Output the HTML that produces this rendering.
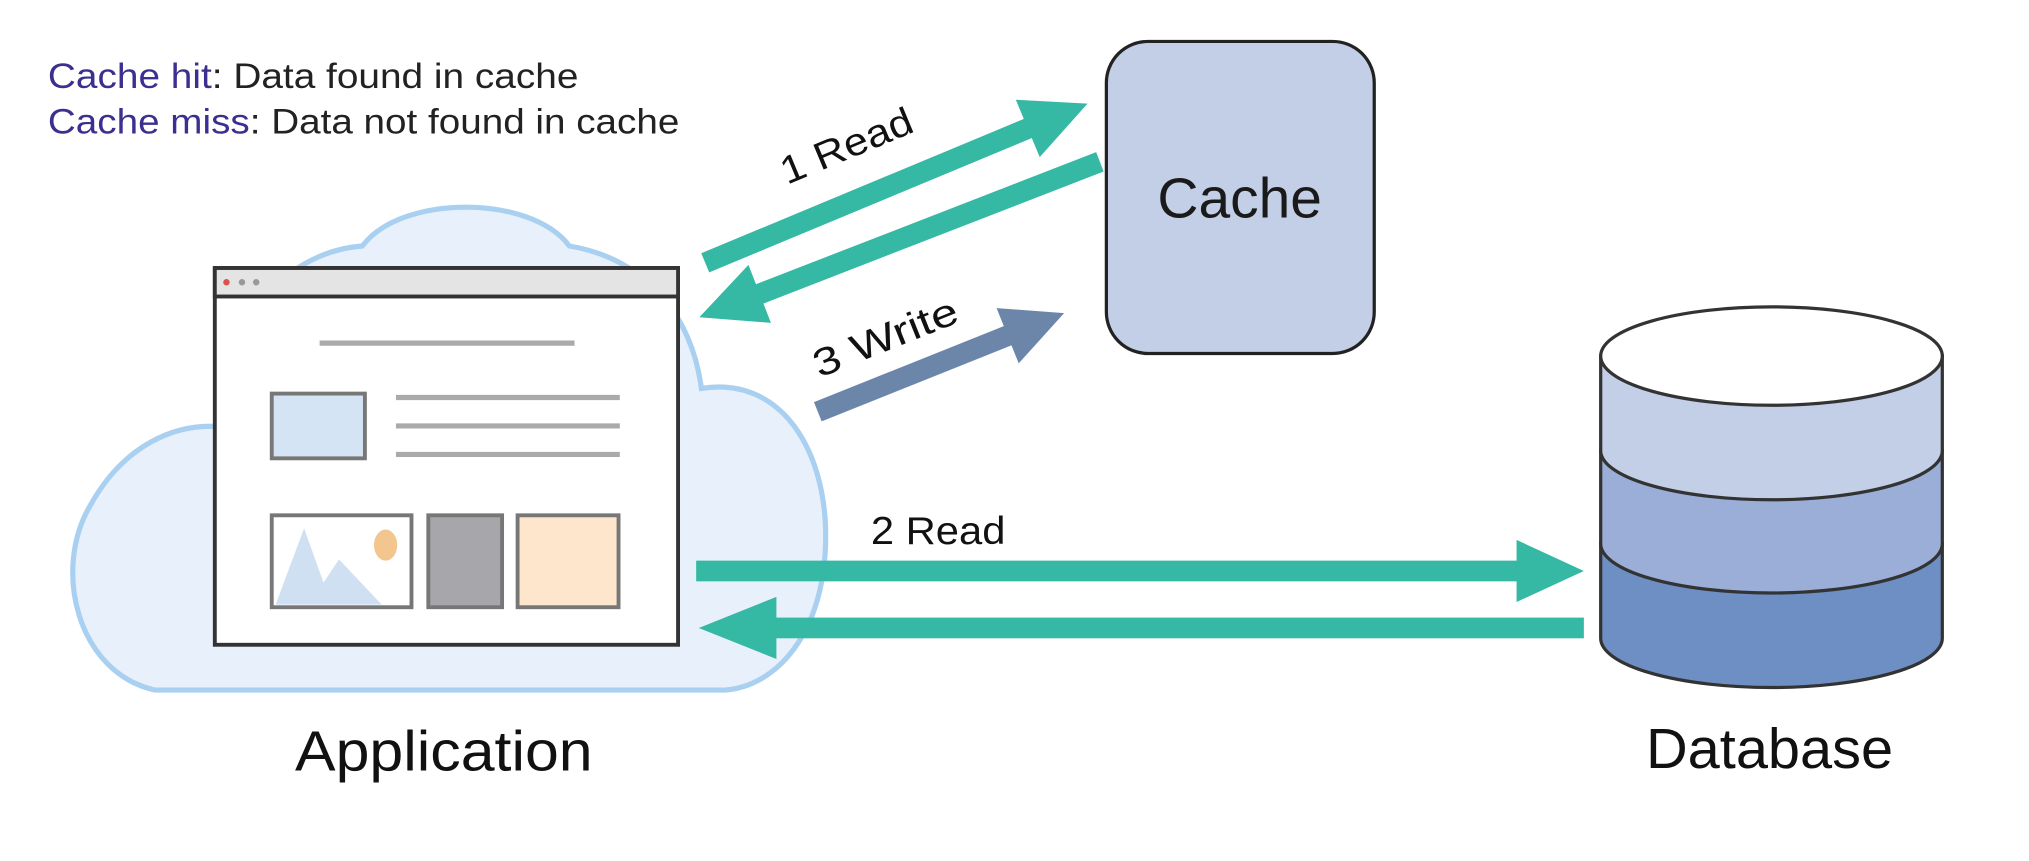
<!DOCTYPE html>
<html><head><meta charset="utf-8"><style>
html,body{margin:0;padding:0;background:#fff;}
svg{display:block;}
text{font-family:"Liberation Sans",sans-serif;}
</style></head><body>
<svg width="2029" height="861" viewBox="0 0 1568 665" preserveAspectRatio="none" xmlns="http://www.w3.org/2000/svg">
<rect width="1568" height="665" fill="#fff"/>
<text x="37" y="68" font-size="27" fill="#222" textLength="410" lengthAdjust="spacingAndGlyphs"><tspan fill="#3b2f8f">Cache hit</tspan>: Data found in cache</text>
<text x="37" y="103" font-size="27" fill="#222" textLength="488" lengthAdjust="spacingAndGlyphs"><tspan fill="#3b2f8f">Cache miss</tspan>: Data not found in cache</text>

<!-- cloud -->
<path d="M120,533 C60,520 40,440 70,390 C95,345 135,325 175,330 C165,260 215,195 280,190 C310,150 410,150 440,190 C500,200 535,245 542,300 C605,290 640,350 638,420 C636,490 600,530 560,533 Z" fill="#e8f1fb" stroke="#a9d0f0" stroke-width="4"/>

<!-- browser -->
<rect x="166" y="207" width="358" height="291" fill="#fff" stroke="#333" stroke-width="3"/>
<rect x="166" y="207" width="358" height="22" fill="#e4e4e4" stroke="#333" stroke-width="3"/>
<circle cx="175" cy="218" r="2.5" fill="#d9534f"/>
<circle cx="187" cy="218" r="2.5" fill="#999"/>
<circle cx="198" cy="218" r="2.5" fill="#999"/>
<line x1="247" y1="265" x2="444" y2="265" stroke="#aaa" stroke-width="4"/>
<rect x="210" y="304" width="72" height="50" fill="#d4e4f4" stroke="#777" stroke-width="3"/>
<line x1="306" y1="307" x2="479" y2="307" stroke="#aaa" stroke-width="4"/>
<line x1="306" y1="329" x2="479" y2="329" stroke="#aaa" stroke-width="4"/>
<line x1="306" y1="351" x2="479" y2="351" stroke="#aaa" stroke-width="4"/>
<rect x="210" y="398" width="108" height="71" fill="#fff" stroke="#777" stroke-width="3"/>
<polygon points="213,467 235,408 250,450 262,432 295,467" fill="#cfe0f3"/>
<ellipse cx="298" cy="421" rx="9" ry="12" fill="#f3c690"/>
<rect x="331" y="398" width="57" height="71" fill="#a7a7ab" stroke="#777" stroke-width="3"/>
<rect x="400" y="398" width="78" height="71" fill="#fde6cb" stroke="#777" stroke-width="3"/>

<!-- cache -->
<rect x="855" y="32" width="207" height="241" rx="32" fill="#c3cfe6" stroke="#222" stroke-width="2.5"/>
<text x="958" y="168" font-size="44" text-anchor="middle" fill="#1a1a1a">Cache</text>

<!-- database -->
<g stroke="#333" stroke-width="2.5">
<path d="M1237,420 L1237,493 A132,38 0 0 0 1501,493 L1501,420 Z" fill="#6e8fc4"/>
<path d="M1237,348 L1237,420 A132,38 0 0 0 1501,420 L1501,348 Z" fill="#9aaed8"/>
<path d="M1237,275 L1237,348 A132,38 0 0 0 1501,348 L1501,275 Z" fill="#c3cfe6"/>
<ellipse cx="1369" cy="275" rx="132" ry="38" fill="#fff"/>
</g>

<!-- arrows -->
<g fill="#35b8a4">
<g transform="translate(545,203) rotate(-22.6)"><rect x="0" y="-8" width="278" height="16"/><polygon points="270,-24 320,0 270,24"/></g>
<g transform="translate(850,125) rotate(158.8)"><rect x="0" y="-8" width="290" height="16"/><polygon points="282,-24 332,0 282,24"/></g>
<rect x="538" y="433" width="640" height="16"/><polygon points="1172,417 1224,441 1172,465"/>
<rect x="595" y="477" width="629" height="16"/><polygon points="600,461 540,485 600,509"/>
</g>
<g transform="translate(632,318) rotate(-21.8)" fill="#6c86aa"><rect x="0" y="-8" width="165" height="16"/><polygon points="158,-23 205,0 158,23"/></g>

<text transform="translate(658,122) rotate(-22.6)" font-size="30" text-anchor="middle" fill="#111" textLength="108" lengthAdjust="spacingAndGlyphs">1 Read</text>
<text transform="translate(688,270) rotate(-21.8)" font-size="30" text-anchor="middle" fill="#111" textLength="118" lengthAdjust="spacingAndGlyphs">3 Write</text>
<text x="673" y="420" font-size="30" fill="#111" textLength="104" lengthAdjust="spacingAndGlyphs">2 Read</text>

<text x="228" y="595" font-size="44" fill="#111" textLength="230" lengthAdjust="spacingAndGlyphs">Application</text>
<text x="1272" y="593" font-size="44" fill="#111" textLength="191" lengthAdjust="spacingAndGlyphs">Database</text>
</svg>
</body></html>
